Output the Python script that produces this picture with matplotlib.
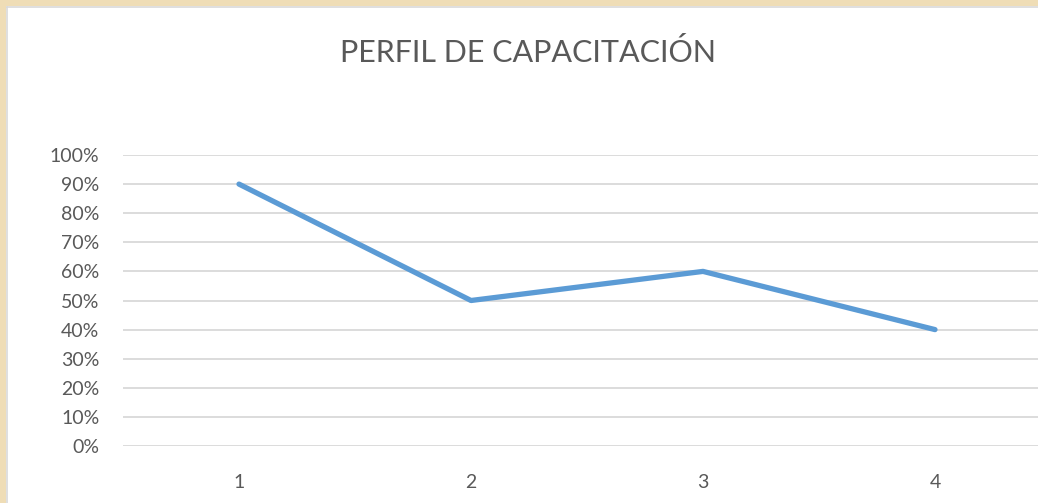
import matplotlib
matplotlib.use("Agg")
import matplotlib.pyplot as plt
from matplotlib.patches import Rectangle
from matplotlib.lines import Line2D
from matplotlib.ticker import PercentFormatter

# data
categories = ["1", "2", "3", "4"]
values = [0.90, 0.50, 0.60, 0.40]
title = "PERFIL DE CAPACITACIÓN"

plt.rcParams['font.family'] = ['Lato', 'DejaVu Sans']

W, H = 1038, 503
fig = plt.figure(figsize=(W / 100, H / 100), dpi=100)
fig.patch.set_facecolor("white")

# beige page showing on the left and top of the white chart panel
beige = "#EFDDB6"
fig.patches.append(Rectangle((0, 0), 6 / W, 1, transform=fig.transFigure,
                             facecolor=beige, edgecolor="none"))
fig.patches.append(Rectangle((0, 1 - 6 / H), 1, 6 / H, transform=fig.transFigure,
                             facecolor=beige, edgecolor="none"))
fig.lines.append(Line2D([6.5 / W, 6.5 / W], [0, 1 - 6.5 / H], transform=fig.transFigure,
                        color="#D9D9D9", linewidth=1.2))
fig.lines.append(Line2D([6.5 / W, 1], [1 - 6.5 / H, 1 - 6.5 / H], transform=fig.transFigure,
                        color="#D9D9D9", linewidth=1.2))

ax = fig.add_axes([123 / W, 57 / H, 928 / W, 291 / H])
ax.set_facecolor("none")

x = list(range(1, len(categories) + 1))
ax.plot(x, values, color="#5B9BD5", linewidth=3.8, solid_capstyle="round",
        solid_joinstyle="round", zorder=3)

ax.set_xlim(0.5, len(categories) + 0.5)
ax.set_ylim(0, 1)
ax.set_yticks([i / 10 for i in range(11)])
ax.yaxis.set_major_formatter(PercentFormatter(1.0, decimals=0))
ax.set_xticks(x)
ax.set_xticklabels(categories)

ax.grid(axis="y", color="#D9D9D9", linewidth=1.3)
ax.set_axisbelow(True)
for s in ax.spines.values():
    s.set_visible(False)
ax.tick_params(axis="both", length=0, labelsize=14, labelcolor="#595959")
ax.tick_params(axis="y", pad=17)
ax.tick_params(axis="x", pad=20)

fig.text(528 / W, 1 - 52 / H, title, ha="center", va="center",
         fontsize=22, color="#595959")

fig.savefig("out.png", dpi=100)
